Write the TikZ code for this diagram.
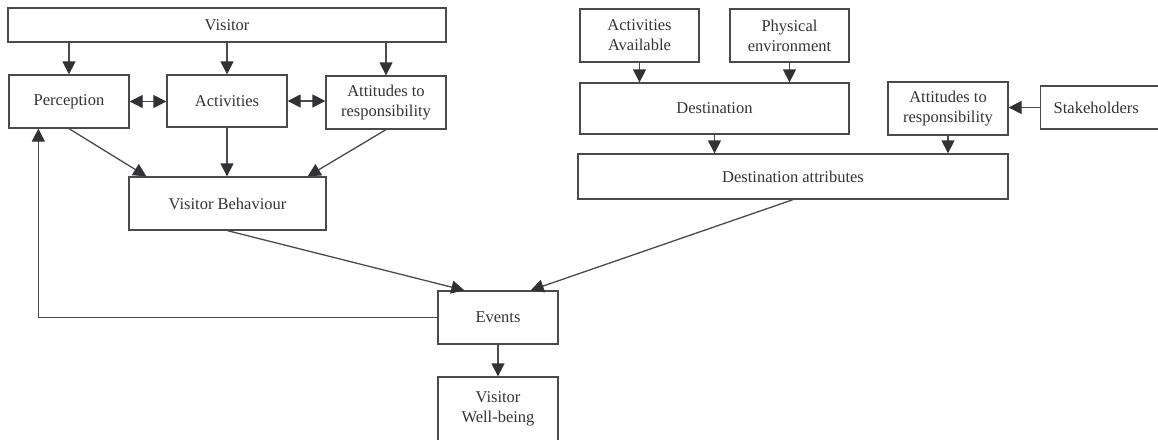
\documentclass[tikz,border=0pt]{standalone}
\usepackage{fontspec}
\setmainfont{Liberation Serif}
\usetikzlibrary{arrows.meta,calc}
\definecolor{edge}{HTML}{4A4A4A}
\definecolor{tip}{HTML}{323236}
\definecolor{ink}{HTML}{333333}
\begin{document}
\begin{tikzpicture}[x=1pt,y=-1pt,
  box/.style={draw=edge, line width=1.3pt, inner sep=0pt, align=center,
    text=ink, font=\fontsize{16.5}{19.8}\selectfont},
  arr/.style={draw=edge, line width=1.3pt, -{Triangle[length=13pt,width=13pt,color=tip,fill=tip]}},
  darr/.style={draw=edge, line width=1.3pt,
    {Triangle[length=13pt,width=13pt,color=tip,fill=tip]}-{Triangle[length=13pt,width=13pt,color=tip,fill=tip]}}]
\useasboundingbox (0,0) rectangle (1158,439);

% visitor side
\node[box, minimum width=438, minimum height=34] (visitor) at (227,25) {Visitor};
\node[box, minimum width=120, minimum height=53] (perc) at (69,101.5) {Perception};
\node[box, minimum width=120, minimum height=52] (act) at (227,101) {Activities};
\node[box, minimum width=120, minimum height=53] (attl) at (386,102.5) {Attitudes to\\responsibility};
\node[box, minimum width=197, minimum height=53] (vb) at (227.5,203.5) {Visitor Behaviour};

% outcomes
\node[box, minimum width=120, minimum height=53] (events) at (498,317.5) {Events};
\node[box, minimum width=120, minimum height=64] (wb) at (498,409) {Visitor\\Well-being};

% destination side
\node[box, minimum width=119, minimum height=53] (actav) at (639.5,35.5) {Activities\\Available};
\node[box, minimum width=119, minimum height=53] (phys) at (789.5,35.5) {Physical\\environment};
\node[box, minimum width=269, minimum height=51] (dest) at (714.5,108.5) {Destination};
\node[box, minimum width=120, minimum height=53] (attr) at (948,108.5) {Attitudes to\\responsibility};
\node[box, minimum height=43, anchor=west, inner xsep=13pt, text width=112pt, align=left] (stake) at (1040,107.5) {Stakeholders};
\node[box, minimum width=430, minimum height=45] (da) at (793,176.5) {Destination attributes};

% connectors: visitor side
\draw[arr] (perc |- visitor.south) -- (perc.north);
\draw[arr] (act |- visitor.south) -- (act.north);
\draw[arr] (attl |- visitor.south) -- (attl.north);
\draw[darr] (perc.east) -- (perc.east -| act.west);
\draw[darr] (act.east) -- (act.east -| attl.west);
\draw[arr] (perc.south) -- ($(vb.north west)+(18,0)$);
\draw[arr] (act.south) -- (act.south |- vb.north);
\draw[arr] (attl.south) -- ($(vb.north east)+(-19,0)$);
\draw[arr] (vb.south) -- ($(events.north west)+(27,0)$);
\draw[arr] (events.west) -| ($(perc.south west)+(30,0)$);
\draw[arr] (events.south) -- (wb.north);

% connectors: destination side
\draw[arr] (actav.south) -- (actav.south |- dest.north);
\draw[arr] (phys.south) -- (phys.south |- dest.north);
\draw[arr] (dest.south) -- (dest.south |- da.north);
\draw[arr] (attr.south) -- (attr.south |- da.north);
\draw[arr] (stake.west) -- (stake.west -| attr.east);
\draw[arr] (da.south) -- ($(events.north east)+(-28,0)$);
\end{tikzpicture}
\end{document}
